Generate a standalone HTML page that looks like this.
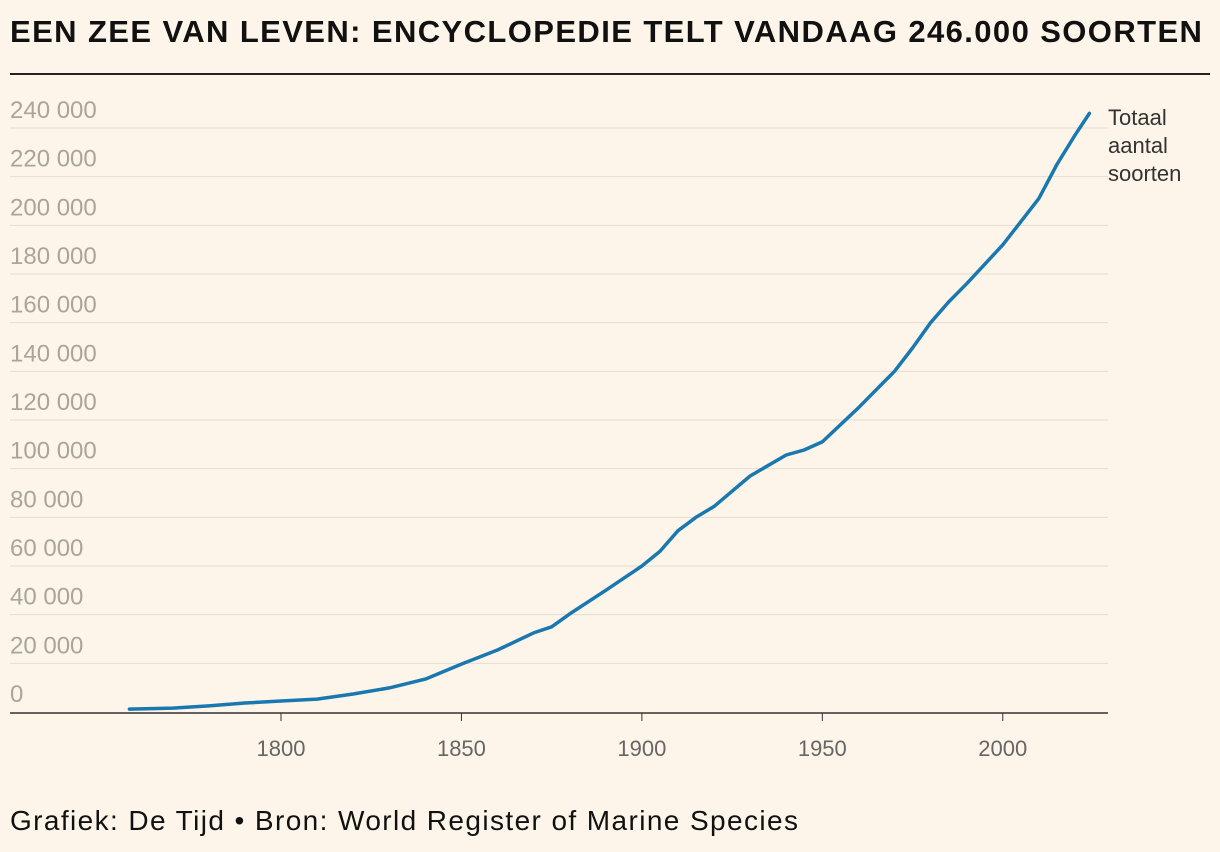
<!DOCTYPE html>
<html><head><meta charset="utf-8">
<style>
body{margin:0;background:#fdf5e9;font-family:"Liberation Sans",sans-serif;}
#wrap{position:relative;width:1220px;height:852px;overflow:hidden;background:#fdf5e9;}
h1{position:absolute;left:10px;top:14px;margin:0;font-size:31px;font-weight:bold;color:#111;letter-spacing:1.4px;white-space:nowrap;}
#rule{position:absolute;left:10px;top:73px;width:1200px;height:2px;background:#222;}
#foot{position:absolute;left:10px;top:805px;font-size:28px;color:#111;letter-spacing:1.4px;white-space:nowrap;}
svg{position:absolute;left:0;top:0;}
</style></head><body>
<div id="wrap">
<h1>EEN ZEE VAN LEVEN: ENCYCLOPEDIE TELT VANDAAG 246.000 SOORTEN</h1>
<div id="rule"></div>
<svg id="chart" width="1220" height="852"></svg>
<div id="foot">Grafiek: De Tijd • Bron: World Register of Marine Species</div>
</div>
<script>
const years=[1758,1770,1780,1790,1800,1810,1820,1830,1840,1850,1860,1870,1875,1880,1890,1895,1900,1905,1910,1915,1920,1930,1940,1945,1950,1960,1970,1975,1980,1985,1990,2000,2010,2015,2020,2024];
const species=[1200,1600,2500,3700,4500,5300,7400,9900,13500,19700,25500,32500,35000,40300,50000,55000,60000,66000,74500,80000,84500,97000,105600,107700,111000,125000,140000,149600,160000,168500,176000,192000,211000,225000,237000,246000];
const yTicks=[0,20000,40000,60000,80000,100000,120000,140000,160000,180000,200000,220000,240000];
const xTicks=[1800,1850,1900,1950,2000];
const seriesLabel=["Totaal","aantal","soorten"];
const NS="http://www.w3.org/2000/svg";
const svg=document.getElementById('chart');
const x=v=>281+(v-1800)*3.6088;
const y=v=>712-v*584/240000;
function mk(t,a){const e=document.createElementNS(NS,t);for(const k in a)e.setAttribute(k,a[k]);svg.appendChild(e);return e;}
yTicks.forEach(t=>{
  if(t>0){const g=mk('line',{x1:10,x2:1108,y1:y(t),y2:y(t),stroke:'#e4dccd','stroke-width':1});
  
  }
  const l=mk('text',{x:10,y:y(t)-10,'font-size':24,fill:'#aaa59c'});
  
  
  l.textContent=String(t).replace(/\B(?=(\d{3})+(?!\d))/g,' ');
});
const ax=mk('line',{x1:10,x2:1108,y1:713,y2:713,stroke:'#333','stroke-width':1.5});


xTicks.forEach(t=>{
  const tk=mk('line',{x1:x(t),x2:x(t),y1:713,y2:721,stroke:'#333','stroke-width':1});
  
  
  const l=mk('text',{x:x(t),y:756,'font-size':22,fill:'#666','text-anchor':'middle'});
  
  
  l.textContent=t;
});
const p=mk('path',{d:years.map((yr,i)=>(i?'L':'M')+x(yr).toFixed(1)+','+y(species[i]).toFixed(1)).join(''),fill:'none',stroke:'#1a78b0','stroke-width':3.5,'stroke-linejoin':'round','stroke-linecap':'round'});


seriesLabel.forEach((s,i)=>{
  const l=mk('text',{x:1108,y:125+i*28,'font-size':22,fill:'#333'});
  
  
  l.textContent=s;
});
</script>
</body></html>
